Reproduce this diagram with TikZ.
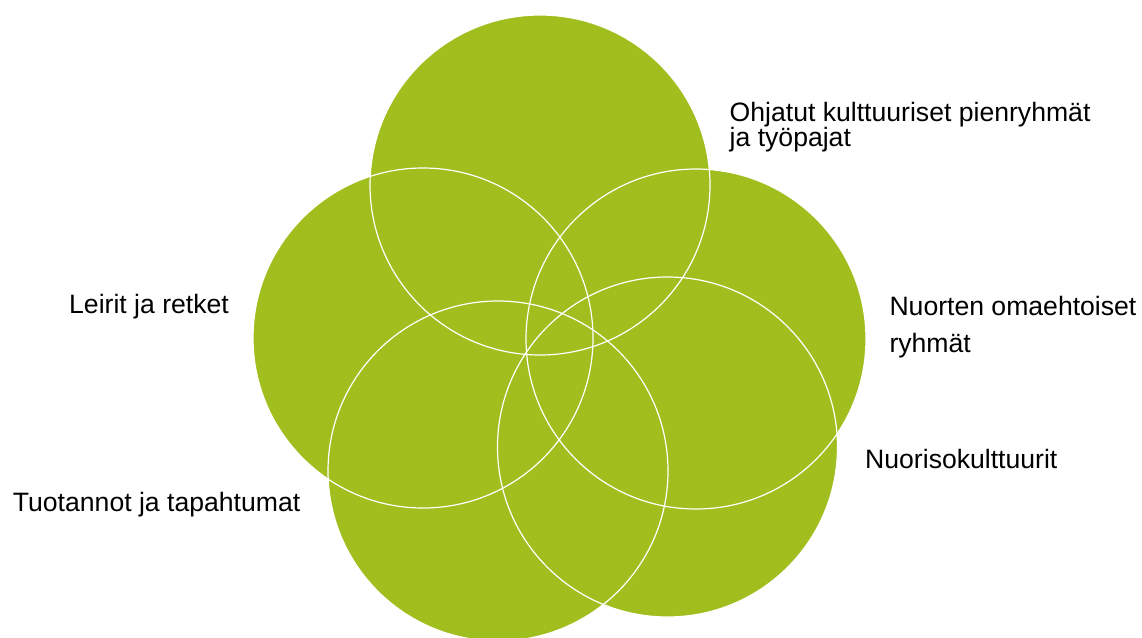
\documentclass[tikz,border=0pt]{standalone}
\usepackage{fontspec}
\setmainfont{Liberation Sans}
\definecolor{venngreen}{RGB}{161,190,31}
\begin{document}
\begin{tikzpicture}[x=1pt,y=-1pt,
  lbl/.style={anchor=base west, inner sep=0pt, align=left, text=black},
  ring/.style={draw=white, line width=1.2pt},
  disc/.style={fill=venngreen}]
\useasboundingbox (0,0) rectangle (1142,637);
\clip (0,0) rectangle (1142,637);
\coordinate (cT) at (540,185);
\coordinate (cL) at (423,338);
\coordinate (cR) at (696,339);
\coordinate (cBL) at (498,471);
\coordinate (cBR) at (667.5,447);
\foreach \c in {cT,cL,cR,cBL,cBR}
  \fill[disc] (\c) circle[radius=170pt];
\foreach \c in {cT,cL,cR,cBL,cBR}
  \draw[ring] (\c) circle[radius=170pt];
\node[lbl, font=\fontsize{26.6}{25}\selectfont] (ohj) at (729.5,146.7) {Ohjatut kulttuuriset pienryhmät\\ja työpajat};
\node[lbl, font=\fontsize{26.6}{37.7}\selectfont] (nuo) at (889.3,352.7) {Nuorten omaehtoiset\\ryhmät};
\node[lbl, font=\fontsize{26.6}{30}\selectfont] (lei) at (69,313.3) {Leirit ja retket};
\node[lbl, font=\fontsize{26.6}{30}\selectfont] (tuo) at (12.7,511) {Tuotannot ja tapahtumat};
\node[lbl, font=\fontsize{26.6}{30}\selectfont] (nk) at (865,468.3) {Nuorisokulttuurit};
\end{tikzpicture}
\end{document}
